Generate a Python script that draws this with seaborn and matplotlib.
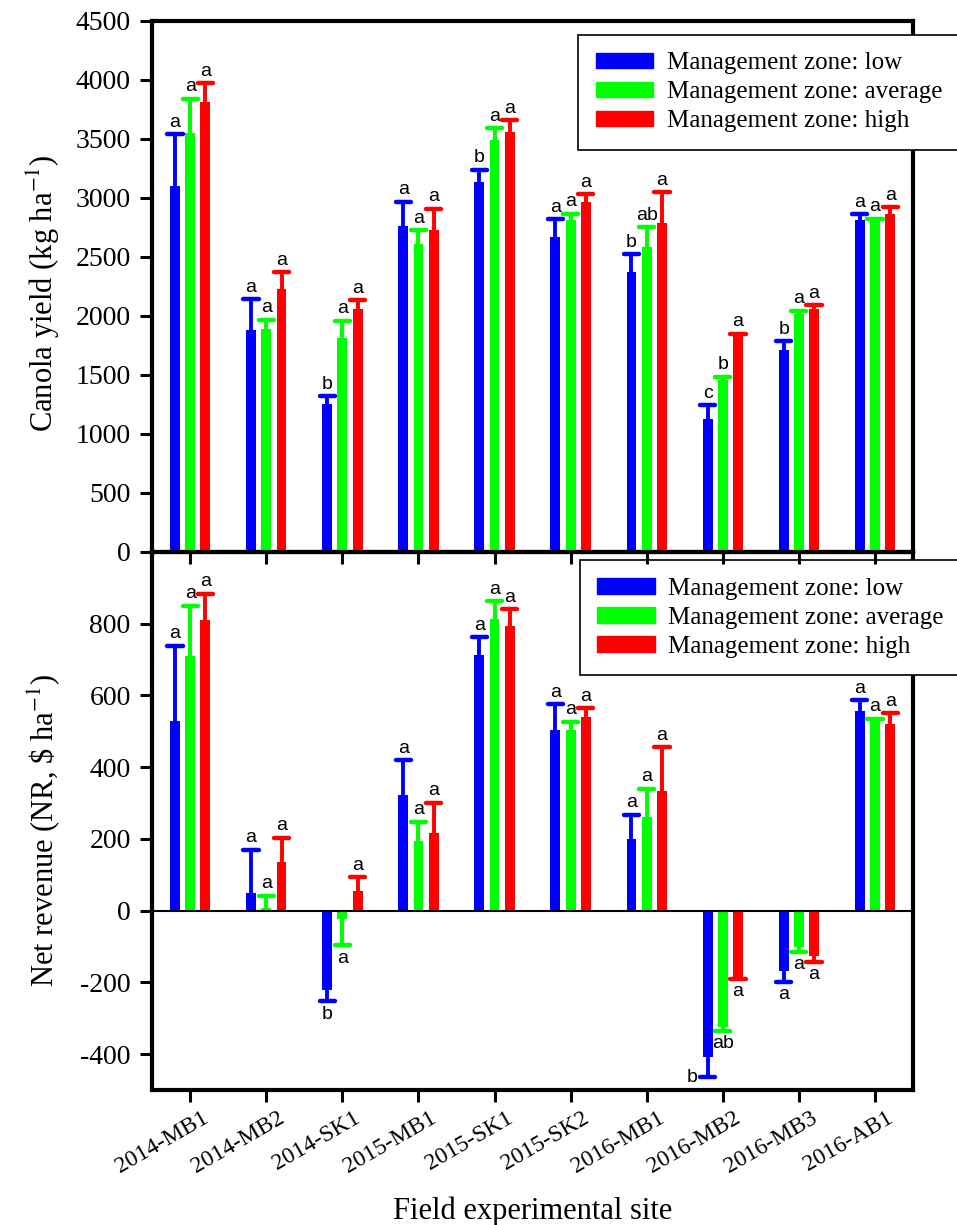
import numpy as np
import pandas as pd
import matplotlib
matplotlib.use('Agg')
from matplotlib import pyplot as plt
from matplotlib.transforms import ScaledTranslation
import matplotlib.patches as mpatches
import seaborn as sns

sites = ['2014-MB1', '2014-MB2', '2014-SK1', '2015-MB1', '2015-SK1',
         '2015-SK2', '2016-MB1', '2016-MB2', '2016-MB3', '2016-AB1']
zones = ['low', 'average', 'high']
zone_colors = ['#0000FF', '#00FF00', '#FF0000']

# canola yield (kg/ha), mean and one-sided error
yield_low = [3100, 1880, 1250, 2760, 3135, 2670, 2370, 1125, 1710, 2810]
yield_avg = [3550, 1890, 1810, 2610, 3490, 2810, 2585, 1460, 2020, 2815]
yield_high = [3810, 2230, 2055, 2725, 3560, 2970, 2790, 1835, 2055, 2865]
yield_err_low = [440, 260, 70, 210, 105, 150, 155, 120, 75, 50]
yield_err_avg = [290, 80, 150, 115, 100, 55, 165, 25, 25, 10]
yield_err_high = [160, 140, 80, 185, 100, 60, 260, 15, 35, 55]
yield_let_low = ['a', 'a', 'b', 'a', 'b', 'a', 'b', 'c', 'b', 'a']
yield_let_avg = ['a', 'a', 'a', 'a', 'a', 'a', 'ab', 'b', 'a', 'a']
yield_let_high = ['a', 'a', 'a', 'a', 'a', 'a', 'a', 'a', 'a', 'a']

# net revenue ($/ha)
nr_low = [530, 50, -220, 322, 714, 504, 200, -408, -168, 558]
nr_avg = [711, 8, -23, 193, 814, 505, 262, -325, -100, 530]
nr_high = [809, 136, 56, 216, 795, 539, 334, -188, -127, 520]
nr_err_low = [208, 120, 33, 98, 48, 71, 68, 56, 31, 28]
nr_err_avg = [139, 34, 74, 55, 49, 22, 78, 10, 14, 5]
nr_err_high = [75, 67, 37, 85, 46, 26, 122, 3, 17, 30]
nr_let_low = ['a', 'a', 'b', 'a', 'a', 'a', 'a', 'b', 'a', 'a']
nr_let_avg = ['a', 'a', 'a', 'a', 'a', 'a', 'a', 'ab', 'a', 'a']
nr_let_high = ['a', 'a', 'a', 'a', 'a', 'a', 'a', 'a', 'a', 'a']

sns.set_style('ticks', {'axes.edgecolor': 'black', 'xtick.color': 'black',
                        'ytick.color': 'black', 'text.color': 'black',
                        'axes.labelcolor': 'black'})
plt.rcParams['font.family'] = ['Liberation Serif', 'DejaVu Serif']
plt.rcParams['mathtext.fontset'] = 'stix'
plt.rcParams['axes.unicode_minus'] = False


def draw_panel(ax, values, errors, letters, ylim, yticks):
    ''' grouped bars with one-sided error bars and letters '''
    df = pd.DataFrame({'site': sites * len(zones),
                       'zone': np.repeat(zones, len(sites)),
                       'value': np.concatenate(values)})
    sns.barplot(data=df, x='site', y='value', hue='zone', order=sites,
                hue_order=zones, palette=zone_colors, width=0.6, gap=0.35,
                errorbar=None, legend=False, saturation=1, linewidth=0, ax=ax)
    ax.set_ylim(*ylim)
    ax.set_xlim(-0.5, len(sites) - 0.5)
    span = ylim[1] - ylim[0]
    bar_conts = list(ax.containers)[:len(zones)]
    cap_hw = 0.1

    for i, cont in enumerate(bar_conts):
        xs = np.array([b.get_x() + b.get_width() / 2 for b in cont])
        v = np.array(values[i], dtype=float)
        e = np.array(errors[i], dtype=float)
        ends = np.where(v >= 0, v + e, v - e)
        # one-sided error bars: stem from bar end, cap only at the far end
        ax.vlines(xs, v, ends, color=zone_colors[i], lw=2.8, zorder=3)
        ax.hlines(ends, xs - cap_hw, xs + cap_hw, color=zone_colors[i], lw=3.2,
                  capstyle='round', zorder=3)
        for x, val, end, let in zip(xs, v, ends, letters[i]):
            kw = dict(textcoords='offset points', fontsize=14, family='Liberation Sans')
            if val >= 0:
                ax.annotate(let, (x, end), xytext=(0, 2.5), ha='center', va='bottom', **kw)
            elif end - 0.035 * span < ylim[0]:
                # no room below: put letter left of the cap
                ax.annotate(let, (x, end), xytext=(-7, 0), ha='right', va='center', **kw)
            else:
                ax.annotate(let, (x, end), xytext=(0, -3), ha='center', va='top', **kw)

    ax.set_yticks(yticks)
    for sp in ax.spines.values():
        sp.set_linewidth(3)
        sp.set_visible(True)
    ax.tick_params(axis='both', direction='out', length=8.5, width=2.2,
                   labelsize=20, pad=7)
    ax.set_xlabel('')

    handles = [mpatches.Patch(color=c, label='Management zone: ' + z)
               for c, z in zip(zone_colors, zones)]
    return handles


fig = plt.figure(figsize=(9.57, 12.25), dpi=100)
ax_top = fig.add_axes([0.159, 0.5494, 0.795, 0.4335])
ax_bot = fig.add_axes([0.159, 0.1102, 0.795, 0.4392])
ax_top.set_zorder(2)
ax_top.patch.set_alpha(0)

handles = draw_panel(ax_top, [yield_low, yield_avg, yield_high],
                     [yield_err_low, yield_err_avg, yield_err_high],
                     [yield_let_low, yield_let_avg, yield_let_high],
                     (0, 4500), np.arange(0, 4501, 500))
ax_top.tick_params(axis='x', labelbottom=False)
ax_top.set_ylabel('Canola yield (kg ha$^{-1}$)', fontsize=22)

draw_panel(ax_bot, [nr_low, nr_avg, nr_high],
           [nr_err_low, nr_err_avg, nr_err_high],
           [nr_let_low, nr_let_avg, nr_let_high],
           (-500, 1000), np.arange(-400, 801, 200))
ax_bot.axhline(0, color='black', lw=1.5, zorder=4)
ax_bot.set_ylabel(r'Net revenue (NR, \$ ha$^{-1}$)', fontsize=22)
ax_bot.set_xlabel('Field experimental site', fontsize=22, labelpad=14)
ax_bot.tick_params(axis='x', labelsize=17, pad=4)
shift = ScaledTranslation(8 / 72, 0, fig.dpi_scale_trans)
for lab in ax_bot.get_xticklabels():
    lab.set_rotation(30)
    lab.set_ha('right')
    lab.set_rotation_mode('anchor')
    lab.set_transform(lab.get_transform() + shift)

ax_top.yaxis.set_label_coords(-0.118, 0.488)
ax_bot.yaxis.set_label_coords(-0.118, 0.483)

leg_kw = dict(handles=handles, fontsize=18, frameon=True, fancybox=False,
              edgecolor='black', framealpha=1, handlelength=2.3, handleheight=0.6,
              handletextpad=0.55, labelspacing=0.28, borderpad=0.7, borderaxespad=0)
lg1 = ax_top.legend(loc='upper left', bbox_to_anchor=(0.56, 0.974), **leg_kw)
lg2 = ax_bot.legend(loc='upper left', bbox_to_anchor=(0.562, 0.985), **leg_kw)
for lg in (lg1, lg2):
    lg.get_frame().set_linewidth(1.2)
    lg.set_zorder(10)

fig.savefig('out.png', dpi=100)
